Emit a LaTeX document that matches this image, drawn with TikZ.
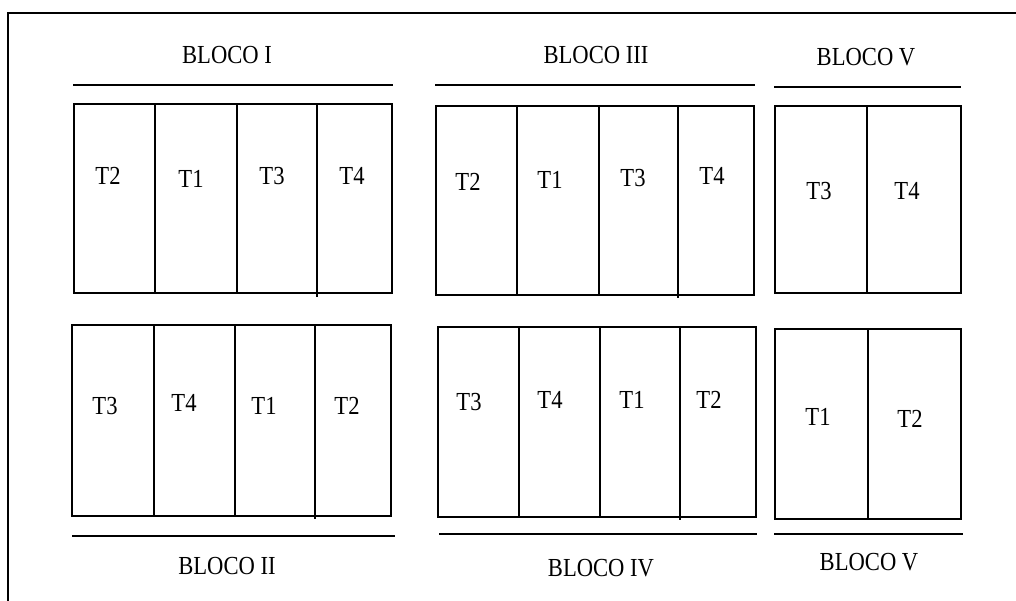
\documentclass[tikz,border=0pt]{standalone}
\usepackage{fontspec}
\setmainfont{Liberation Serif}
\newcommand{\stretchtxt}[1]{\scalebox{1}[1.15]{#1}}
\begin{document}
\begin{tikzpicture}[x=1pt,y=-1pt,
  line width=1.6pt,
  lbl/.style={inner sep=0pt, anchor=center, font=\fontsize{22.6}{24}\selectfont},
  ttl/.style={inner sep=0pt, anchor=center, font=\fontsize{22.6}{24}\selectfont}]
\useasboundingbox (0,0) rectangle (1016,600);
% frame
\draw[line width=1.6pt] (8,601) -- (8,13) -- (1017,13);

% ---------- BLOCO I ----------
\node[ttl] (b1) at (227,55.5) {\stretchtxt{BLOCO I}};
\draw (73,85) -- (393,85);
\draw (74,104) rectangle (392,293);
\draw (155,104) -- (155,293);
\draw (237,104) -- (237,293);
\draw (317,104) -- (317,297);
\node[lbl] (b1t2) at (108,176) {\stretchtxt{T2}};
\node[lbl] (b1t1) at (191,179) {\stretchtxt{T1}};
\node[lbl] (b1t3) at (272,176) {\stretchtxt{T3}};
\node[lbl] (b1t4) at (352,176) {\stretchtxt{T4}};

% ---------- BLOCO II ----------
\draw (72,325) rectangle (391,516);
\draw (154,325) -- (154,516);
\draw (235,325) -- (235,516);
\draw (315,325) -- (315,519);
\node[lbl] (b2t3) at (105,406) {\stretchtxt{T3}};
\node[lbl] (b2t4) at (184,403) {\stretchtxt{T4}};
\node[lbl] (b2t1) at (264,406) {\stretchtxt{T1}};
\node[lbl] (b2t2) at (347,406) {\stretchtxt{T2}};
\draw (72,536) -- (395,536);
\node[ttl] (b2) at (227,566.5) {\stretchtxt{BLOCO II}};

% ---------- BLOCO III ----------
\node[ttl] (b3) at (596,55.5) {\stretchtxt{BLOCO III}};
\draw (435,85) -- (755,85);
\draw (436,106) rectangle (754,295);
\draw (517,106) -- (517,295);
\draw (599,106) -- (599,295);
\draw (678,106) -- (678,298);
\node[lbl] (b3t2) at (468,182) {\stretchtxt{T2}};
\node[lbl] (b3t1) at (550,180) {\stretchtxt{T1}};
\node[lbl] (b3t3) at (633,178) {\stretchtxt{T3}};
\node[lbl] (b3t4) at (712,176) {\stretchtxt{T4}};

% ---------- BLOCO IV ----------
\draw (438,327) rectangle (756,517);
\draw (519,327) -- (519,517);
\draw (600,327) -- (600,517);
\draw (680,327) -- (680,520);
\node[lbl] (b4t3) at (469,402) {\stretchtxt{T3}};
\node[lbl] (b4t4) at (550,400) {\stretchtxt{T4}};
\node[lbl] (b4t1) at (632,400) {\stretchtxt{T1}};
\node[lbl] (b4t2) at (709,400) {\stretchtxt{T2}};
\draw (439,534) -- (757,534);
\node[ttl] (b4) at (601,568) {\stretchtxt{BLOCO IV}};

% ---------- BLOCO V (top) ----------
\node[ttl] (b5a) at (866,57) {\stretchtxt{BLOCO V}};
\draw (774,87) -- (961,87);
\draw (775,106) rectangle (961,293);
\draw (867,106) -- (867,293);
\node[lbl] (b5at3) at (819,191) {\stretchtxt{T3}};
\node[lbl] (b5at4) at (907,191) {\stretchtxt{T4}};

% ---------- BLOCO V (bottom) ----------
\draw (775,329) rectangle (961,519);
\draw (868,329) -- (868,519);
\node[lbl] (b5bt1) at (818,417) {\stretchtxt{T1}};
\node[lbl] (b5bt2) at (910,419) {\stretchtxt{T2}};
\draw (774,534) -- (963,534);
\node[ttl] (b5b) at (869,562.5) {\stretchtxt{BLOCO V}};
\end{tikzpicture}
\end{document}
